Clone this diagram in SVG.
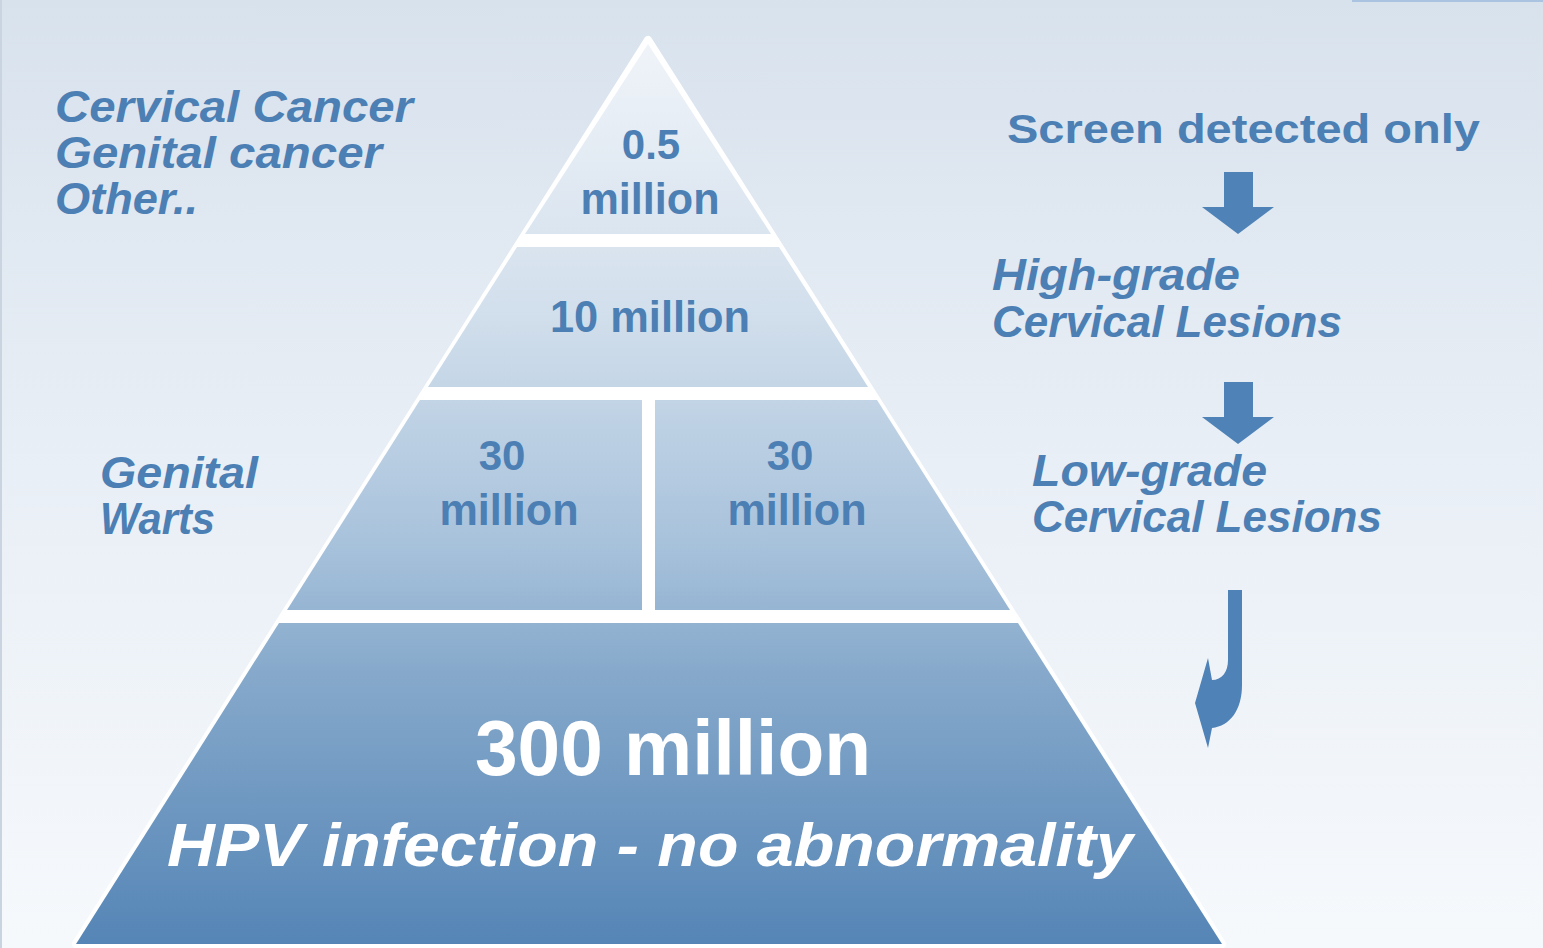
<svg xmlns="http://www.w3.org/2000/svg" width="1543" height="948" viewBox="0 0 1543 948">
<defs>
<linearGradient id="bg" x1="0" y1="0" x2="0" y2="948" gradientUnits="userSpaceOnUse">
<stop offset="0" stop-color="#d8e2ed"/>
<stop offset="0.5" stop-color="#e9eff6"/>
<stop offset="1" stop-color="#f6f9fc"/>
</linearGradient>
<linearGradient id="pyr" x1="0" y1="40" x2="0" y2="944" gradientUnits="userSpaceOnUse">
<stop offset="0" stop-color="#f0f4f9"/>
<stop offset="0.3" stop-color="#d2dfec"/>
<stop offset="0.55" stop-color="#a9c3dc"/>
<stop offset="0.7" stop-color="#86a9cb"/>
<stop offset="1" stop-color="#5585b6"/>
</linearGradient>
<style>
.t{font-family:"Liberation Sans","DejaVu Sans",sans-serif;font-weight:bold;fill:#4c7fb4}
.i{font-style:italic}
.m{text-anchor:middle}
.w{fill:#ffffff}
.tier{fill:url(#pyr)}
.arr{fill:#4f82b7}
</style>
</defs>
<rect x="0" y="0" width="1543" height="948" fill="url(#bg)"/>
<rect x="1352" y="0" width="191" height="2" fill="#a9c3e0"/>
<rect x="0" y="0" width="2" height="948" fill="#c9d4e0"/>

<g id="pyramid-outline">
<polygon points="648,40 76,944 1222,944" fill="#ffffff" stroke="#ffffff" stroke-width="8" stroke-linejoin="round"/>
</g>

<g id="tier1">
<polygon class="tier" points="648,44 525,234 771,234"/>
<text class="t m" x="651" y="159" font-size="42">0.5</text>
<text class="t m" x="650" y="214" font-size="44" textLength="139" lengthAdjust="spacingAndGlyphs">million</text>
</g>

<g id="tier2">
<polygon class="tier" points="517,247 779,247 868,387 428,387"/>
<text class="t m" x="650" y="332" font-size="45" textLength="200" lengthAdjust="spacingAndGlyphs">10 million</text>
</g>

<g id="tier3-left">
<polygon class="tier" points="420,400 642,400 642,610 287,610"/>
<text class="t m" x="502" y="470" font-size="42">30</text>
<text class="t m" x="509" y="525" font-size="44" textLength="139" lengthAdjust="spacingAndGlyphs">million</text>
</g>

<g id="tier3-right">
<polygon class="tier" points="655,400 877,400 1010,610 655,610"/>
<text class="t m" x="790" y="470" font-size="42">30</text>
<text class="t m" x="797" y="525" font-size="44" textLength="139" lengthAdjust="spacingAndGlyphs">million</text>
</g>

<g id="tier4">
<polygon class="tier" points="279,623 1018,623 1222,944 76,944"/>
<text class="t w m" x="673" y="775" font-size="78" textLength="396" lengthAdjust="spacingAndGlyphs">300 million</text>
<text class="t w i m" x="650" y="866" font-size="62" textLength="966" lengthAdjust="spacingAndGlyphs">HPV infection - no abnormality</text>
</g>

<g id="label-cancers">
<text class="t i" x="55" y="122" font-size="44" textLength="358" lengthAdjust="spacingAndGlyphs">Cervical Cancer</text>
<text class="t i" x="55" y="168" font-size="44" textLength="327" lengthAdjust="spacingAndGlyphs">Genital cancer</text>
<text class="t i" x="55" y="214" font-size="44" textLength="143" lengthAdjust="spacingAndGlyphs">Other..</text>
</g>

<g id="label-warts">
<text class="t i" x="100" y="488" font-size="44" textLength="158" lengthAdjust="spacingAndGlyphs">Genital</text>
<text class="t i" x="100" y="534" font-size="44" textLength="115" lengthAdjust="spacingAndGlyphs">Warts</text>
</g>

<g id="label-screen">
<text class="t" x="1007" y="143" font-size="41" textLength="473" lengthAdjust="spacingAndGlyphs">Screen detected only</text>
</g>

<g id="label-high">
<text class="t i" x="992" y="290" font-size="44" textLength="248" lengthAdjust="spacingAndGlyphs">High-grade</text>
<text class="t i" x="992" y="337" font-size="44" textLength="350" lengthAdjust="spacingAndGlyphs">Cervical Lesions</text>
</g>

<g id="label-low">
<text class="t i" x="1032" y="486" font-size="44" textLength="235" lengthAdjust="spacingAndGlyphs">Low-grade</text>
<text class="t i" x="1032" y="532" font-size="44" textLength="350" lengthAdjust="spacingAndGlyphs">Cervical Lesions</text>
</g>

<g id="connectors">
<polygon class="arr" points="1224,172 1253,172 1253,207 1274,207 1238,234 1202,207 1224,207"/>
<polygon class="arr" points="1224,382 1253,382 1253,417 1274,417 1238,444 1202,417 1224,417"/>
<path class="arr" d="M1228,590 L1242,590 L1242,685 C1242,710 1230,726 1212,728 L1208,748 L1195,703 L1208,658 L1212,680 C1222,680 1228,672 1228,660 Z"/>
</g>
</svg>
